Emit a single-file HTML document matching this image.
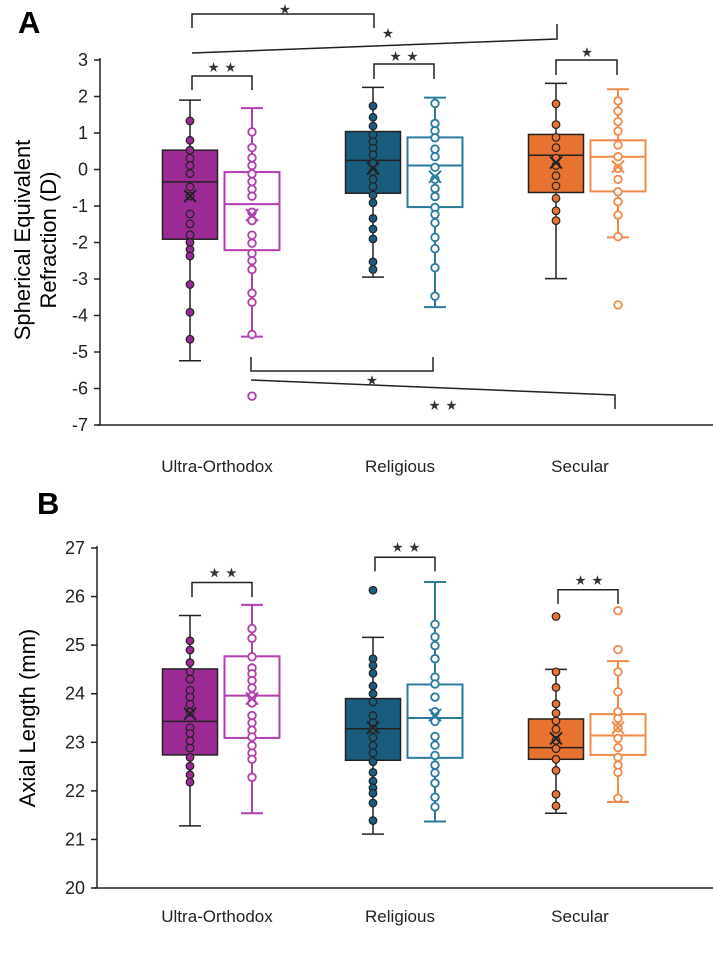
<!DOCTYPE html>
<html><head><meta charset="utf-8"><style>
html,body{margin:0;padding:0;background:#fff;}
svg{display:block;font-family:"Liberation Sans",Arial,sans-serif;}
</style></head><body>
<svg id="chart" width="713" height="960" viewBox="0 0 713 960">
<text x="18" y="33" font-size="31" font-weight="bold">A</text>
<text x="37" y="514" font-size="31" font-weight="bold">B</text>
<text transform="translate(30,240) rotate(-90)" text-anchor="middle" font-size="22">Spherical Equivalent</text>
<text transform="translate(56,240) rotate(-90)" text-anchor="middle" font-size="22">Refraction (D)</text>
<text transform="translate(35,718) rotate(-90)" text-anchor="middle" font-size="22">Axial Length (mm)</text>
<g id="gA"></g>
<g id="gB"></g>
</svg>
<script>
const categories = ["Ultra-Orthodox","Religious","Secular"];
const ticksA = [3,2,1,0,-1,-2,-3,-4,-5,-6,-7];
const ticksB = [27,26,25,24,23,22,21,20];
// box stats: [whiskerLow, q1, median, q3, whiskerHigh, mean]
const statsA_filled = [[-5.24,-1.91,-0.34,0.53,1.90,-0.73],[-2.95,-0.65,0.25,1.04,2.25,0.03],[-2.99,-0.63,0.39,0.96,2.36,0.19]];
const statsA_hollow = [[-4.58,-2.21,-0.95,-0.07,1.68,-1.25],[-3.77,-1.03,0.11,0.88,1.97,-0.2],[-1.86,-0.60,0.35,0.80,2.20,0.08]];
const ptsA_filled = [
 [1.33,0.80,0.53,0.31,0.11,-0.11,-0.48,-0.73,-1.22,-1.49,-1.79,-2.0,-2.19,-2.37,-3.15,-3.91,-4.65],
 [1.74,1.43,1.19,0.95,0.76,0.58,0.40,0.17,-0.06,-0.27,-0.47,-0.70,-0.91,-1.34,-1.63,-1.90,-2.53,-2.74],
 [1.80,1.23,0.88,0.60,0.31,0.11,-0.17,-0.45,-0.79,-1.13,-1.40]];
const ptsA_hollow = [
 [1.03,0.6,0.32,0.11,-0.12,-0.33,-0.54,-0.73,-1.17,-1.40,-1.80,-2.02,-2.30,-2.50,-2.74,-3.39,-3.64,-4.52,-6.21],
 [1.81,1.26,1.06,0.87,0.56,0.35,0.06,-0.27,-0.52,-0.74,-1.04,-1.23,-1.46,-1.86,-2.17,-2.69,-3.47],
 [1.88,1.60,1.31,1.05,0.67,0.35,0.03,-0.27,-0.61,-0.88,-1.25,-1.84,-3.71]];
const statsB_filled = [[21.28,22.74,23.43,24.51,25.61,23.59],[21.11,22.63,23.28,23.9,25.16,23.3],[21.54,22.65,22.89,23.48,24.5,23.08]];
const statsB_hollow = [[21.54,23.09,23.96,24.77,25.83,23.9],[21.37,22.68,23.5,24.19,26.3,23.56],[21.77,22.74,23.14,23.58,24.67,23.3]];
const ptsB_filled = [
 [25.09,24.9,24.64,24.46,24.3,24.07,23.93,23.78,23.62,23.3,23.18,23.03,22.88,22.69,22.51,22.33,22.18],
 [26.13,24.72,24.58,24.42,24.16,24.0,23.83,23.55,23.4,23.27,23.1,22.93,22.78,22.6,22.38,22.2,22.06,21.95,21.75,21.39],
 [25.59,24.45,24.13,23.79,23.6,23.44,23.27,23.04,22.87,22.65,22.42,21.93,21.69]];
const ptsB_hollow = [
 [25.34,25.14,24.76,24.53,24.41,24.27,24.12,23.95,23.81,23.55,23.4,23.25,23.11,22.93,22.78,22.65,22.28],
 [25.43,25.17,24.99,24.72,24.34,24.2,23.93,23.63,23.43,23.12,22.94,22.73,22.53,22.37,22.16,21.87,21.67],
 [25.71,24.91,24.45,24.04,23.63,23.49,23.3,23.08,22.89,22.69,22.53,22.38,21.85]];
const sigB = [[26.29,25.99,"**"],[26.81,26.52,"**"],[26.14,25.85,"**"]];

const fillC = ["#9b2a94","#1a5c7e","#e8722f"];
const hollowC = ["#b43db1","#2a7a9e","#ef8a4c"];
const filledX = [190,373,556];
const hollowX = [252,435,618];
const BW = 55;
const NS = "http://www.w3.org/2000/svg";
function mk(p,tag,a){const e=document.createElementNS(NS,tag);for(const k in a)e.setAttribute(k,a[k]);p.appendChild(e);return e;}

function panel(g, ticks, yScale, axX, axY, sF, sH, pF, pH, labY, pfx){
  mk(g,'line',{x1:axX,y1:yScale(ticks[0])-2,x2:axX,y2:axY,stroke:'#222','stroke-width':1.5});
  mk(g,'line',{x1:axX-3,y1:axY,x2:713,y2:axY,stroke:'#222','stroke-width':1.5});
  ticks.forEach(t=>{
    const y=yScale(t);
    const tk=mk(g,'line',{x1:axX-6,y1:y,x2:axX,y2:y,stroke:'#222','stroke-width':1.5});
    
    
    const tl=mk(g,'text',{x:axX-12,y:y+6,'text-anchor':'end','font-size':18,fill:'#222'});
    tl.textContent=t;
    
    
  });
  const labX=[217,400,580];
  categories.forEach((c,i)=>{
    const t=mk(g,'text',{x:labX[i],y:labY,'text-anchor':'middle','font-size':17,fill:'#222'});
    t.textContent=c;
    
    
  });
  for(let i=0;i<3;i++){
    drawBox(g,filledX[i],sF[i],pF[i],yScale,fillC[i],'#222',true,pfx+'-box-'+i+'-filled');
    drawBox(g,hollowX[i],sH[i],pH[i],yScale,hollowC[i],hollowC[i],false,pfx+'-box-'+i+'-hollow');
  }
}
function drawBox(g,cx,s,pts,yScale,col,lineC,filled,name){
  const bg=mk(g,'g',{});
  
  
  const sw=filled?1.5:2;
  mk(bg,'line',{x1:cx,y1:yScale(s[0]),x2:cx,y2:yScale(s[4]),stroke:lineC,'stroke-width':sw});
  mk(bg,'line',{x1:cx-11,y1:yScale(s[0]),x2:cx+11,y2:yScale(s[0]),stroke:lineC,'stroke-width':sw});
  mk(bg,'line',{x1:cx-11,y1:yScale(s[4]),x2:cx+11,y2:yScale(s[4]),stroke:lineC,'stroke-width':sw});
  mk(bg,'rect',{x:cx-BW/2,y:yScale(s[3]),width:BW,height:yScale(s[1])-yScale(s[3]),fill:filled?col:'#fff',stroke:lineC,'stroke-width':sw});
  mk(bg,'line',{x1:cx-BW/2,y1:yScale(s[2]),x2:cx+BW/2,y2:yScale(s[2]),stroke:lineC,'stroke-width':sw});
  pts.forEach(v=>{
    const c=mk(bg,'circle',{cx:cx,cy:yScale(v),r:3.8,fill:filled?col:'#fff',stroke:filled?'#222':col,'stroke-width':filled?1.2:1.8});
    
    
  });
  const my=yScale(s[5]);
  mk(bg,'path',{d:`M${cx-6},${my-6}L${cx+6},${my+6}M${cx+6},${my-6}L${cx-6},${my+6}`,stroke:lineC,'stroke-width':2});
}
function star(g,x,y,t){const e=mk(g,'text',{x:x,y:y+4,'text-anchor':'middle','font-size':27,fill:'#333','font-family':'DejaVu Sans, sans-serif'});e.textContent=t.split('').map(()=> '⋆').join('');}
function path(g,d){const e=mk(g,'path',{d:d,fill:'none',stroke:'#222','stroke-width':1.5});}

// Panel A
const yA = v => 60 + (3 - v) * 36.5;
const gA = document.getElementById('gA');
panel(gA, ticksA, yA, 100, 425, statsA_filled, statsA_hollow, ptsA_filled, ptsA_hollow, 472, 'panel-a');
path(gA,'M192,28V14H374V28'); star(gA,285,14,'*');
path(gA,'M192,53L557,39V24'); star(gA,388,38,'*');
path(gA,'M192,90V76H252V90'); star(gA,222,72,'**');
path(gA,'M374,79V64H434V79'); star(gA,404,61,'**');
path(gA,'M556,75V60H617V75'); star(gA,587,57,'*');
path(gA,'M251,357V371H433V357'); star(gA,372,385,'*');
path(gA,'M251,380L615,395V409'); star(gA,443,410,'**');

// Panel B
const yB = v => 888 - (v - 20) * 48.57;
const gB = document.getElementById('gB');
panel(gB, ticksB, yB, 97, 888, statsB_filled, statsB_hollow, ptsB_filled, ptsB_hollow, 922, 'panel-b');
sigB.forEach((s,i)=>{
  path(gB,`M${filledX[i]+2},${yB(s[1])}V${yB(s[0])}H${hollowX[i]}V${yB(s[1])}`);
  star(gB,(filledX[i]+hollowX[i])/2+2,yB(s[0])-5,s[2]);
});
</script>
</body></html>
